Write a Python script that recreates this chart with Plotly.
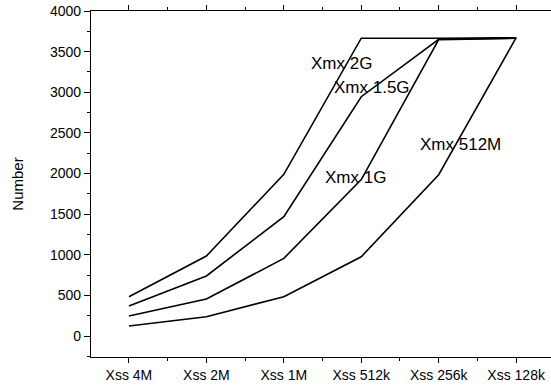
import plotly.graph_objects as go

categories = ["Xss 4M", "Xss 2M", "Xss 1M", "Xss 512k", "Xss 256k", "Xss 128k"]
xmx_2g = [484, 985, 1990, 3665, 3665, 3670]
xmx_15g = [369, 739, 1470, 2945, 3652, 3668]
xmx_1g = [246, 455, 956, 1925, 3648, 3665]
xmx_512m = [123, 238, 484, 976, 1985, 3672]

series_names = ["Xmx 2G", "Xmx 1.5G", "Xmx 1G", "Xmx 512M"]
series_values = [xmx_2g, xmx_15g, xmx_1g, xmx_512m]
# label anchor (category index, value) for each series label
label_x = [2.74, 3.14, 2.92, 4.28]
label_y = [3360, 3061, 1948, 2360]

FONT = "Liberation Sans, Arial, sans-serif"
xpos = list(range(len(categories)))

fig = go.Figure()
for name, vals in zip(series_names, series_values):
    fig.add_trace(go.Scatter(x=xpos, y=vals, mode="lines", name=name,
                             line=dict(color="black", width=1.6),
                             showlegend=False, hoverinfo="x+y+name"))

for name, lx, ly in zip(series_names, label_x, label_y):
    fig.add_annotation(x=lx, y=ly, text=name, showarrow=False,
                       font=dict(family=FONT, size=17, color="black"),
                       xanchor="center", yanchor="middle")

fig.update_layout(
    width=551, height=387,
    margin=dict(l=91, r=0, t=11, b=30),
    paper_bgcolor="white", plot_bgcolor="white",
    font=dict(family=FONT, size=14, color="black"),
)
fig.update_xaxes(
    range=[-0.49, 5.45], tickvals=xpos, ticktext=categories,
    showgrid=False, zeroline=False, showline=True, linecolor="black", linewidth=1.3,
    ticks="outside", ticklen=5, tickwidth=1.2, tickcolor="black", mirror="ticks",
    minor=dict(dtick=0.5, tick0=0, ticks="outside", ticklen=3, tickwidth=1, tickcolor="black"),
    tickfont=dict(size=14),
)
fig.update_yaxes(
    range=[-258, 4000], tickvals=list(range(0, 4001, 500)),
    showgrid=False, zeroline=False, showline=True, linecolor="black", linewidth=1.3,
    ticks="outside", ticklen=6, tickwidth=1.2, tickcolor="black",
    minor=dict(dtick=250, tick0=0, ticks="outside", ticklen=3, tickwidth=1, tickcolor="black"),
    tickfont=dict(size=14),
    title=dict(text="Number", font=dict(size=15), standoff=22),
)

fig.write_html("out.html", config={"displayModeBar": False},
               post_script="document.body.style.margin='0';document.body.style.overflow='hidden';")
